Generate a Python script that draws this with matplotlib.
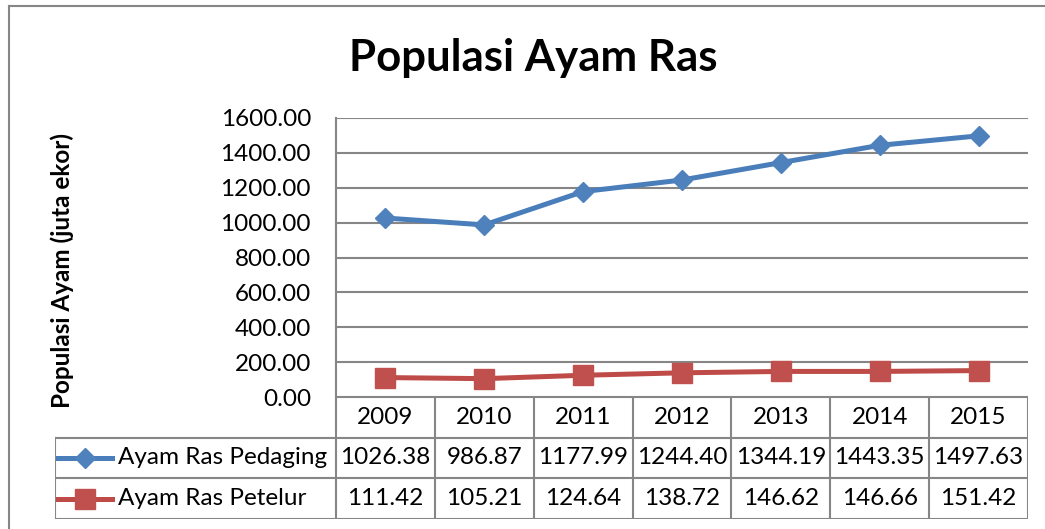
import matplotlib.pyplot as plt
from matplotlib.lines import Line2D

# data
years = ["2009", "2010", "2011", "2012", "2013", "2014", "2015"]
pedaging = [1026.38, 986.87, 1177.99, 1244.40, 1344.19, 1443.35, 1497.63]
petelur = [111.42, 105.21, 124.64, 138.72, 146.62, 146.66, 151.42]
series_names = ["Ayam Ras Pedaging", "Ayam Ras Petelur"]
y_ticks = [0, 200, 400, 600, 800, 1000, 1200, 1400, 1600]

W, H = 1045, 529
plt.rcParams["font.family"] = ["Lato", "DejaVu Sans"]

blue_line, blue_mark = "#4A7EBB", "#4F81BD"
red_line, red_mark = "#BE4B48", "#C0504D"
grid_col = "#868686"


def px_box(x0, y0, x1, y1):
    """pixel box (top-left origin) -> figure fraction rect"""
    return [x0 / W, (H - y1) / H, (x1 - x0) / W, (y1 - y0) / H]


fig = plt.figure(figsize=(W / 100, H / 100), dpi=100)

# outer chart border (only left and top visible in the crop)
fig.add_artist(Line2D([9 / W, 9 / W], [0, (H - 6) / H], color=grid_col, lw=1.5))
fig.add_artist(Line2D([9 / W, 1], [(H - 6) / H, (H - 6) / H], color=grid_col, lw=1.5))

# plot area
ax = fig.add_axes(px_box(336, 118, 1028, 397))
x = list(range(len(years)))
ax.plot(x, pedaging, color=blue_line, lw=3.6, marker="D", ms=9.7,
        mfc=blue_mark, mec=blue_mark, zorder=3)
ax.plot(x, petelur, color=red_line, lw=3.6, marker="s", ms=14,
        mfc=red_mark, mec=red_mark, zorder=3)
ax.set_xlim(-0.5, len(years) - 0.5)
ax.set_ylim(0, 1600)
ax.set_yticks(y_ticks)
ax.set_yticklabels(["{:.2f}".format(v) for v in y_ticks], fontsize=17.5)
ax.set_xticks([])
ax.tick_params(axis="y", length=0, pad=18)
ax.grid(axis="y", color=grid_col, lw=1.5)
ax.set_axisbelow(True)
for side in ["top", "right", "bottom"]:
    ax.spines[side].set_visible(False)
ax.spines["left"].set_color(grid_col)
ax.spines["left"].set_linewidth(1.5)
ax.set_ylabel("Populasi Ayam (juta ekor)", fontsize=17.5, fontweight="bold")
ax.yaxis.set_label_coords((62 - 336) / (1028 - 336), 0.452)
ax.yaxis.label.set_va("center")

fig.text(533 / W, (H - 58) / H, "Populasi Ayam Ras", fontsize=31.5, fontweight="bold",
         ha="center", va="center")

# data table below the plot
col_w = (1028 - 336) / len(years)
left = -0.5 - (336 - 55) / col_w
tab = fig.add_axes(px_box(55, 397, 1028, 519))
tab.set_xlim(left, len(years) - 0.5)
tab.set_ylim(3, 0)
tab.axis("off")
lkw = dict(color=grid_col, lw=1.5, solid_capstyle="projecting")

# horizontal lines
tab.plot([-0.5, len(years) - 0.5], [0, 0], **lkw)
for r in [1, 2, 3]:
    tab.plot([left, len(years) - 0.5], [r, r], **lkw)
# vertical lines
tab.plot([left, left], [1, 3], **lkw)
for c in range(len(years) + 1):
    tab.plot([c - 0.5, c - 0.5], [0, 3], **lkw)

for i, yr in enumerate(years):
    tab.text(i, 0.5, yr, ha="center", va="center", fontsize=17.5)
rows = [pedaging, petelur]
for r, vals in enumerate(rows):
    for i, v in enumerate(vals):
        tab.text(i, r + 1.5, "{:.2f}".format(v), ha="center", va="center", fontsize=17.5)

# legend keys inside the table
key_x0 = left + 3 / col_w
key_x1 = left + 57 / col_w
key_m = (key_x0 + key_x1) / 2
tab.plot([key_x0, key_x1], [1.5, 1.5], color=blue_line, lw=3.6)
tab.plot([key_m], [1.5], marker="D", ms=9.7, color=blue_mark)
tab.plot([key_x0, key_x1], [2.5, 2.5], color=red_line, lw=3.6)
tab.plot([key_m], [2.5], marker="s", ms=14, color=red_mark)
for r, name in enumerate(series_names):
    tab.text(left + 63 / col_w, r + 1.5, name, ha="left", va="center", fontsize=17.5)

fig.savefig("out.png", dpi=100)
